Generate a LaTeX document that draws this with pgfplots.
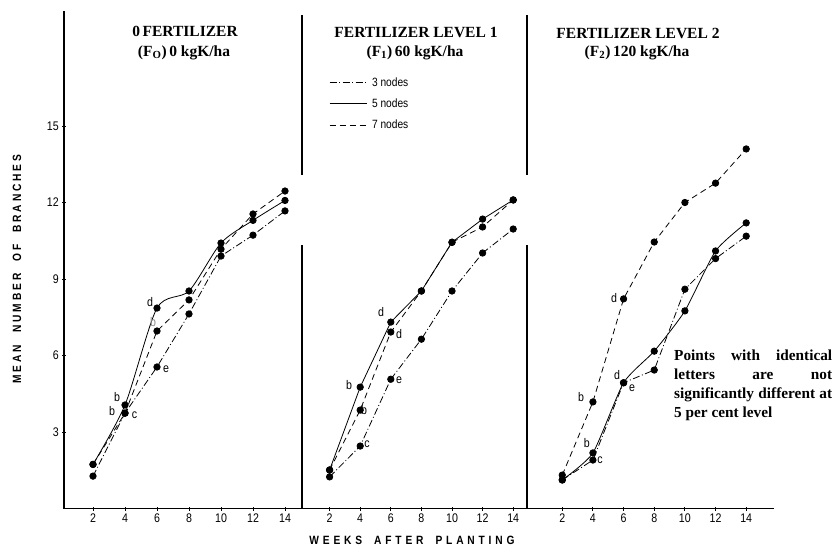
\documentclass[border=0pt]{standalone}
\usepackage{pgfplots}
\pgfplotsset{compat=1.18}
\usepackage{fontspec}
\setmainfont{Liberation Serif}
\newfontfamily\narrowfont[FakeStretch=0.85]{Liberation Sans}
\newfontfamily\ylabfont[FakeStretch=0.85, LetterSpace=24]{Liberation Sans}
\newfontfamily\xlabfont[FakeStretch=0.85, LetterSpace=32]{Liberation Sans}
\tikzset{
  nthree/.style={black, line width=0.8pt, dash pattern=on 7pt off 2.5pt on 1pt off 2.5pt},
  nfive/.style={black, line width=0.8pt},
  nseven/.style={black, line width=0.8pt, dash pattern=on 6pt off 4pt},
  lt/.style={font=\narrowfont\fontsize{12.5}{13}\selectfont, inner sep=0pt},
}
\pgfplotsset{
  panel/.style={scale only axis, height=497.25pt, ymin=0, ymax=19.5, clip=false,
    xtick={2,4,...,14}, tick align=outside, major tick length=4pt,
    tick style={black, line width=0.9pt},
    axis line style={-, line width=1.3pt},
    tick label style={font=\narrowfont\fontsize{12.5}{13}\selectfont},
    /pgf/number format/assume math mode=true,
    every axis plot/.append style={mark=*, mark size=3.2pt, mark options={solid, fill=black}},
    anchor=south west},
}
\begin{document}
\begin{tikzpicture}
\fill[white, use as bounding box] (0,0) rectangle (833pt,547pt);
% Panel 1
\begin{axis}[panel, at={(64.2pt,38.5pt)}, width=235.2pt, xmin=0.2, xmax=14.9,
  axis lines=left, ytick={3,6,9,12,15},
  x axis line style={-}, y axis line style={-, line width=1.8pt}]
\addplot[nthree] coordinates {(2,1.27)(4,3.74)(6,5.55)(8,7.63)(10,9.90)(12,10.72)(14,11.67)};
\addplot[nfive, smooth, tension=0.45] coordinates {(2,1.73)(4,4.06)(6,7.86)(8,8.53)(10,10.41)(12,11.30)(14,12.08)};
\addplot[nseven] coordinates {(2,1.73)(4,3.74)(6,6.96)(8,8.18)(10,10.17)(12,11.55)(14,12.45)};
\node[lt] at (axis cs:3.5,4.37) {b};
\node[lt] at (axis cs:3.19,3.82) {b};
\node[lt] at (axis cs:4.6,3.67) {c};
\node[lt] at (axis cs:5.56,8.1) {d};
\node[lt, text=black!45] at (axis cs:5.75,7.3) {b};
\node[lt] at (axis cs:6.56,5.47) {e};
\end{axis}
% Panel 2
\begin{axis}[panel, at={(299pt,38.5pt)}, width=229.5pt, xmin=0, xmax=15,
  axis x line=bottom, axis y line=none, x axis line style={-},
  legend style={draw=none, fill=none, at={(0.131,0.871)}, anchor=north west,
    font=\narrowfont\fontsize{12}{13}\selectfont, row sep=7pt, inner sep=0pt},
  legend cell align=left,
  legend image code/.code={\draw[#1] (0pt,0pt) -- (37pt,0pt); \path (40pt,0pt);}]
\addplot[nthree] coordinates {(2,1.24)(4,2.45)(6,5.07)(8,6.64)(10,8.53)(12,10.02)(14,10.96)};
\addlegendentry{3 nodes}
\addplot[nfive] coordinates {(2,1.51)(4,4.76)(6,7.31)(8,8.53)(10,10.44)(12,11.35)(14,12.1)};
\addlegendentry{5 nodes}
\addplot[nseven] coordinates {(2,1.51)(4,3.86)(6,6.92)(8,8.53)(10,10.44)(12,11.04)(14,12.1)};
\addlegendentry{7 nodes}
\draw[line width=1.3pt] (axis cs:0.2,0) -- (axis cs:0.2,10.33);
\draw[line width=1.6pt] (axis cs:0.2,13.08) -- (axis cs:0.2,19.35);
\node[lt] at (axis cs:3.27,4.84) {b};
\node[lt] at (axis cs:4.25,3.86) {b};
\node[lt] at (axis cs:4.44,2.53) {c};
\node[lt] at (axis cs:5.36,7.7) {d};
\node[lt] at (axis cs:6.54,6.84) {d};
\node[lt] at (axis cs:6.54,5.04) {e};
\end{axis}
% Panel 3
\begin{axis}[panel, at={(527pt,38.5pt)}, width=246.8pt, xmin=-0.3, xmax=15.8,
  axis x line=bottom, axis y line=none, x axis line style={-}]
\addplot[nthree] coordinates {(2,1.12)(4,1.90)(6,4.93)(8,5.43)(10,8.6)(12,9.8)(14,10.68)};
\addplot[nfive, smooth, tension=0.35] coordinates {(2,1.12)(4,2.18)(6,4.93)(8,6.17)(10,7.75)(12,10.1)(14,11.2)};
\addplot[nseven] coordinates {(2,1.31)(4,4.18)(6,8.22)(8,10.45)(10,12.0)(12,12.76)(14,14.1)};
\draw[line width=1.3pt] (axis cs:-0.3,0) -- (axis cs:-0.3,10.33);
\draw[line width=1.6pt] (axis cs:-0.3,13.08) -- (axis cs:-0.3,19.35);
\node[lt] at (axis cs:3.22,4.37) {b};
\node[lt] at (axis cs:5.38,8.25) {d};
\node[lt] at (axis cs:3.61,2.57) {b};
\node[lt] at (axis cs:4.46,1.90) {c};
\node[lt] at (axis cs:5.58,5.24) {d};
\node[lt] at (axis cs:6.56,4.73) {e};
\end{axis}
% Titles
\begin{scope}[font=\bfseries\fontsize{15.5}{17}\selectfont]
\node at (185pt,516pt) {0\,FERTILIZER};
\node at (184pt,494pt) {(F\textsubscript{O})\,0 kgK/ha};
\node at (416pt,514pt) {FERTILIZER LEVEL 1};
\node at (415pt,494pt) {(F\textsubscript{1})\,60 kgK/ha};
\node at (638pt,514pt) {FERTILIZER LEVEL 2};
\node at (637pt,494pt) {(F\textsubscript{2})\,120 kgK/ha};
\end{scope}
% Annotation
\node[anchor=north west, text width=158pt, align=justify, inner sep=0pt,
  font=\bfseries\fontsize{15.3}{19}\selectfont] at (674pt,197pt)
  {Points with identical\linebreak letters are not\linebreak significantly different at\linebreak 5 per cent level};
% Axis titles
\node[rotate=90, font=\ylabfont\bfseries\fontsize{12}{13}\selectfont] at (17pt,278pt)
  {MEAN\quad NUMBER\quad OF\quad BRANCHES};
\node[font=\xlabfont\bfseries\fontsize{12}{13}\selectfont] at (412pt,7pt)
  {WEEKS\quad AFTER\quad PLANTING};
\end{tikzpicture}
\end{document}
